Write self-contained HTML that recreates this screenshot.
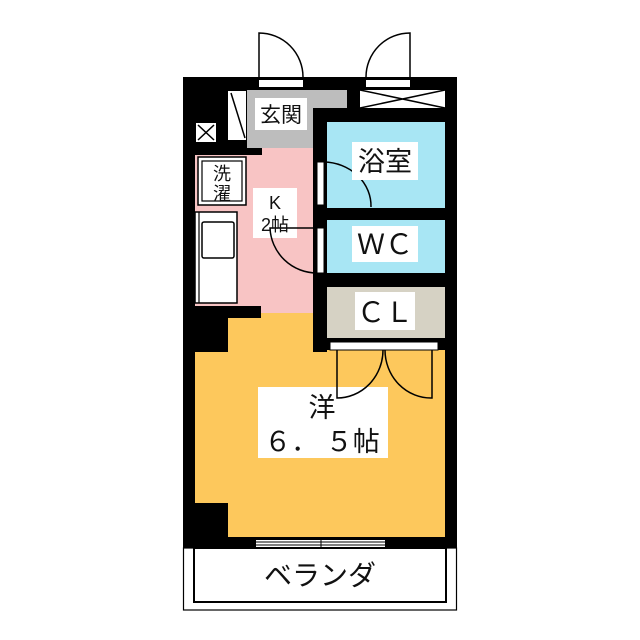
<!DOCTYPE html>
<html><head><meta charset="utf-8"><style>
html,body{margin:0;padding:0;background:#fff;}
svg{display:block;}
text{font-family:"Liberation Sans","Noto Sans CJK JP",sans-serif;fill:#111;}
</style></head><body>
<svg width="640" height="640" viewBox="0 0 640 640" xmlns="http://www.w3.org/2000/svg">
<rect width="640" height="640" fill="#fff"/>
<rect x="183" y="77" width="274" height="472" fill="#000"/>
<!-- yellow room -->
<rect x="195" y="352" width="250" height="185" fill="#fdc85c"/>
<rect x="228" y="313" width="85" height="40" fill="#fdc85c"/>
<rect x="327" y="350" width="118" height="5" fill="#fdc85c"/>
<rect x="195" y="503" width="33" height="34" fill="#000"/>
<!-- kitchen pink -->
<rect x="195" y="155" width="118" height="151" fill="#f8c4c4"/>
<rect x="262" y="142" width="51" height="14" fill="#f8c4c4"/>
<rect x="261" y="306" width="52" height="7" fill="#f8c4c4"/>
<rect x="183" y="306" width="78" height="12" fill="#000"/>
<!-- genkan gray -->
<rect x="247" y="90" width="100" height="18" fill="#bdbdbd"/>
<rect x="247" y="108" width="66" height="40" fill="#bdbdbd"/>
<!-- top right box -->
<rect x="360" y="90" width="85" height="18" fill="#fff"/>
<path d="M360 90 L445 108 M360 108 L445 90" stroke="#000" stroke-width="1.5"/>
<!-- bath, wc, cl -->
<rect x="327" y="122" width="118" height="86" fill="#a8e6f4"/>
<rect x="327" y="220" width="118" height="53" fill="#a8e6f4"/>
<rect x="327" y="287" width="118" height="51" fill="#d6d2c4"/>
<rect x="330" y="342" width="108" height="8" fill="#fff" stroke="#000" stroke-width="1"/>
<!-- top doors -->
<rect x="259" y="80" width="44" height="7" fill="#fff"/>
<rect x="366" y="80" width="44" height="7" fill="#fff"/>
<path d="M259 77 V33 A44 44 0 0 1 303 77" fill="none" stroke="#000" stroke-width="1.5"/>
<path d="M410 77 V33 A44 44 0 0 0 366 77" fill="none" stroke="#000" stroke-width="1.5"/>
<!-- left fixtures -->
<rect x="196" y="123" width="20" height="19" fill="#fff"/>
<path d="M198 125 L214 140 M214 125 L198 140" stroke="#000" stroke-width="1.5"/>
<rect x="228" y="91" width="18" height="49" fill="#fff"/>
<path d="M231 93 L245 138" stroke="#000" stroke-width="1.5"/>
<rect x="198" y="157" width="48" height="48" fill="#fff" stroke="#000" stroke-width="1.5"/>
<rect x="202" y="161" width="40" height="40" fill="#fff" stroke="#000" stroke-width="1.2"/>
<rect x="195" y="212" width="42" height="91" fill="#fff" stroke="#000" stroke-width="1.5"/>
<line x1="199" y1="212" x2="199" y2="303" stroke="#000" stroke-width="1.2"/>
<rect x="202" y="222" width="32" height="36" rx="2" fill="#fff" stroke="#000" stroke-width="1.5"/>
<!-- bath door -->
<rect x="317" y="162" width="7" height="43" fill="#fff" stroke="#000" stroke-width="1"/>
<path d="M324 162 A48 44 0 0 1 371 207" fill="none" stroke="#000" stroke-width="1.5"/>
<rect x="317" y="228" width="7" height="45" fill="#fff" stroke="#000" stroke-width="1"/>
<!-- window -->
<rect x="256" y="540" width="129" height="7" fill="#fff"/>
<path d="M256 542 H385 M256 545 H385 M321 538 V549" stroke="#000" stroke-width="1"/>
<!-- balcony -->
<rect x="183.5" y="548" width="273" height="62" fill="#fff" stroke="#000" stroke-width="1.2"/>
<rect x="194" y="548" width="252" height="54" fill="#fff" stroke="#000" stroke-width="2"/>
<!-- label boxes -->
<rect x="255" y="98" width="52" height="32" fill="#fff"/>
<rect x="352" y="142" width="66" height="38" fill="#fff"/>
<rect x="352" y="226" width="66" height="36" fill="#fff"/>
<rect x="355" y="292" width="60" height="38" fill="#fff"/>
<rect x="253" y="188" width="44" height="50" fill="#fff"/>
<rect x="258" y="387" width="130" height="71" fill="#fff"/>
<path d="M317 228 H270 A47 47 0 0 0 317 273" fill="none" stroke="#000" stroke-width="1.5"/>
<path d="M337 350 V398 A46 48 0 0 0 383 350" fill="none" stroke="#000" stroke-width="1.5"/>
<path d="M432 350 V398 A46 48 0 0 1 385 350" fill="none" stroke="#000" stroke-width="1.5"/>
<!-- texts -->
<text x="281" y="122" font-size="21" text-anchor="middle">玄関</text>
<text x="385" y="171" font-size="27" text-anchor="middle">浴室</text>
<text x="385" y="254" font-size="28" text-anchor="middle">ＷＣ</text>
<text x="385" y="322" font-size="28" text-anchor="middle">ＣＬ</text>
<text x="222" y="180" font-size="18" text-anchor="middle">洗</text>
<text x="222" y="200" font-size="18" text-anchor="middle">濯</text>
<text x="275" y="209" font-size="18" text-anchor="middle">K</text>
<text x="275" y="231" font-size="18" text-anchor="middle">2帖</text>
<text x="322" y="417" font-size="27" text-anchor="middle">洋</text>
<text x="322" y="451" font-size="27" text-anchor="middle">６． ５帖</text>
<text x="320" y="585" font-size="28" text-anchor="middle">ベランダ</text>
</svg>
</body></html>
